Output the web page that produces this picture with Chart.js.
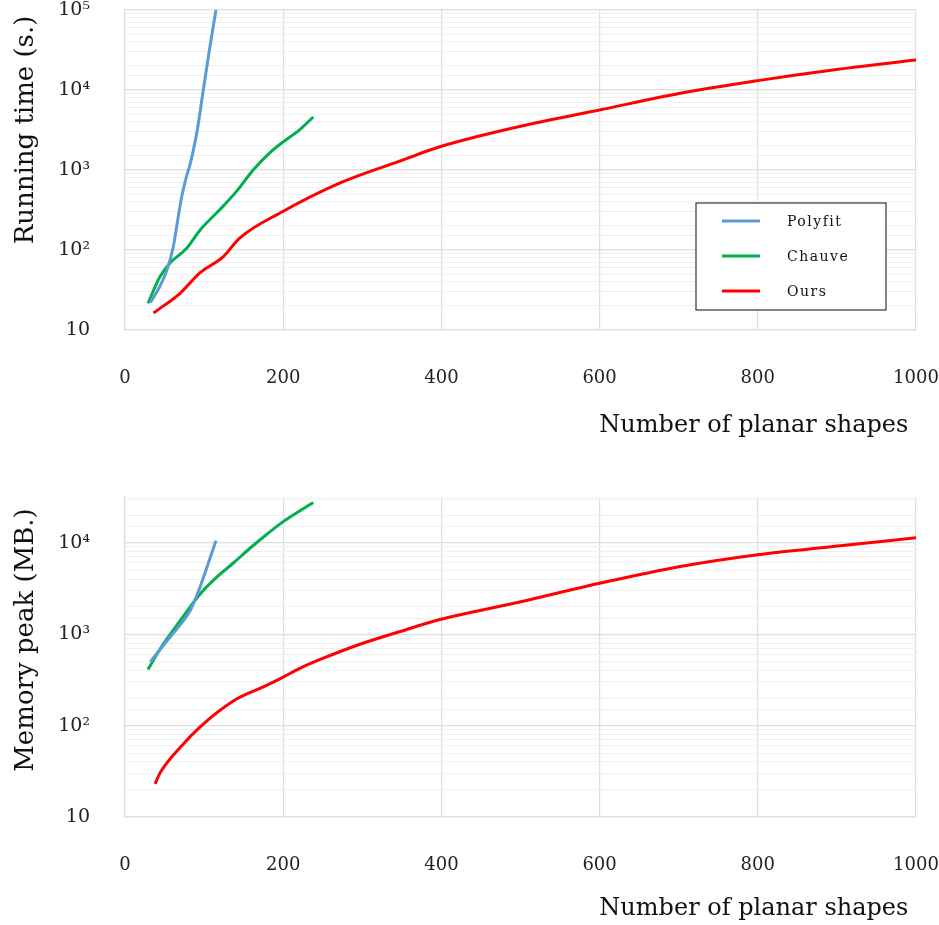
<!DOCTYPE html>
<html>
<head>
<meta charset="utf-8">
<script src="https://cdn.jsdelivr.net/npm/chart.js@4.4.1/dist/chart.umd.min.js"></script>
<style>
  body { margin: 0; background: #fff; }
  .box { position: relative; width: 939px; }
</style>
</head>
<body>
<div class="box" style="height:462px"><canvas id="timeChart"></canvas></div>
<div class="box" style="height:463px"><canvas id="memChart"></canvas></div>
<script>
// running time (s.)
const polyfitTimeX = [32, 44, 53, 61, 67, 72, 78, 82, 86, 91, 99, 107, 115];
const polyfitTimeY = [22, 35, 56, 109, 250, 480, 850, 1150, 1700, 3000, 10000, 33000, 100000];
const chauveTimeX = [29, 44, 57, 78, 95, 120, 141, 162, 183, 200, 221, 238];
const chauveTimeY = [21.5, 46, 69, 105, 178, 320, 540, 1000, 1640, 2250, 3200, 4600];
const oursTimeX = [36, 70, 95, 124, 145, 196, 272, 348, 398, 499, 600, 702, 800, 895, 1000];
const oursTimeY = [16.3, 29, 52, 82, 141, 290, 690, 1300, 1950, 3500, 5620, 9100, 13100, 17800, 23700];

// memory peak (MB.)
const polyfitMemX = [32, 57, 82, 86, 95, 115];
const polyfitMemY = [500, 930, 1780, 2100, 3300, 10500];
const chauveMemX = [29, 44, 70, 95, 116, 137, 158, 179, 200, 238];
const chauveMemY = [410, 680, 1410, 2750, 4200, 6000, 8700, 12300, 17000, 27500];
const oursMemX = [38, 44, 70, 95, 137, 179, 200, 221, 246, 297, 348, 398, 499, 600, 702, 800, 895, 1000];
const oursMemY = [23, 30, 58, 97, 186, 275, 339, 422, 525, 776, 1070, 1445, 2250, 3600, 5500, 7400, 9100, 11300];

const xTicks = [0, 200, 400, 600, 800, 1000];
const seriesNames = ['Polyfit', 'Chauve', 'Ours'];
const seriesColors = ['#5b9bd5', '#00b050', '#ff0000'];

const serif = "'DejaVu Serif', serif";
const sup = {'0':'⁰','1':'¹','2':'²','3':'³','4':'⁴','5':'⁵','6':'⁶','7':'⁷','8':'⁸','9':'⁹'};

function pts(xs, ys) {
  return xs.map((x, i) => ({x: x, y: ys[i]}));
}

function isPow10(v) {
  const l = Math.log10(v);
  return Math.abs(l - Math.round(l)) < 1e-6;
}

function powLabel(v) {
  if (!isPow10(v)) return '';
  const e = Math.round(Math.log10(v));
  if (e === 1) return '10';
  return '10' + String(e).split('').map(c => sup[c]).join('');
}

// legend box drawn inside the plot area
const boxLegend = {
  id: 'boxLegend',
  afterDraw(chart, args, opts) {
    if (!opts.show) return;
    const ctx = chart.ctx;
    const a = chart.chartArea;
    const x0 = a.right - 220, y0 = a.bottom - 127;
    const w = 190, h = 107;
    ctx.save();
    ctx.fillStyle = '#fff';
    ctx.fillRect(x0, y0, w, h);
    ctx.strokeStyle = '#333';
    ctx.lineWidth = 1.2;
    ctx.strokeRect(x0, y0, w, h);
    ctx.font = "14px " + serif;
    ctx.letterSpacing = '1.5px';
    ctx.textBaseline = 'middle';
    chart.data.datasets.forEach((ds, i) => {
      const y = y0 + 18 + i * 35;
      ctx.strokeStyle = ds.borderColor;
      ctx.lineWidth = 3;
      ctx.beginPath();
      ctx.moveTo(x0 + 26, y);
      ctx.lineTo(x0 + 64, y);
      ctx.stroke();
      ctx.fillStyle = '#111';
      ctx.fillText(ds.label, x0 + 91, y + 1);
    });
    ctx.restore();
  }
};

// rotated y axis title, placed like the original figure (not exactly centred)
const yTitle = {
  id: 'yTitle',
  afterDraw(chart, args, opts) {
    const ctx = chart.ctx;
    const a = chart.chartArea;
    ctx.save();
    ctx.translate(33, (a.top + a.bottom) / 2 + opts.shift);
    ctx.rotate(-Math.PI / 2);
    ctx.font = "26px " + serif;
    ctx.fillStyle = '#111';
    ctx.textAlign = 'center';
    ctx.textBaseline = 'alphabetic';
    ctx.fillText(opts.text, 0, 0);
    ctx.restore();
  }
};

function makeChart(id, sets, title, titleShift, yMax, padTop, xHeight, titlePad, showLegend) {
  return new Chart(document.getElementById(id), {
    type: 'line',
    data: {
      datasets: sets.map((s, i) => ({
        label: seriesNames[i],
        data: s,
        borderColor: seriesColors[i],
        backgroundColor: seriesColors[i],
        borderWidth: 3,
        pointRadius: 0,
        cubicInterpolationMode: 'monotone',
        fill: false,
      }))
    },
    options: {
      responsive: true,
      maintainAspectRatio: false,
      animation: false,
      layout: { padding: { top: padTop, right: 23, left: 0, bottom: 0 } },
      plugins: {
        legend: { display: false },
        tooltip: { enabled: false },
        boxLegend: { show: showLegend },
        yTitle: { text: title, shift: titleShift },
      },
      scales: {
        x: {
          type: 'linear',
          min: 0,
          max: 1000,
          afterBuildTicks: (scale) => { scale.ticks = xTicks.map(v => ({value: v})); },
          ticks: { color: '#222', font: { family: serif, size: 18 }, padding: 38,
                   callback: (v) => String(v) },
          grid: { color: '#dddddd', lineWidth: 1.2, drawTicks: false },
          border: { color: '#dddddd', width: 1.2 },
          title: {
            display: true, text: 'Number of planar shapes ', align: 'end',
            color: '#111', font: { family: serif, size: 24 },
            padding: { top: 0, bottom: titlePad }
          },
          afterFit: (scale) => {
            scale.height = xHeight;
            scale.paddingLeft = 0;
            scale.paddingRight = 0;
          }
        },
        y: {
          type: 'logarithmic',
          min: 10,
          max: yMax,
          ticks: {
            color: '#222', font: { family: serif, size: 19 }, padding: 35,
            autoSkip: false,
            callback: (v) => powLabel(v)
          },
          grid: {
            drawTicks: false,
            color: (c) => (isPow10(c.tick.value) ? '#dddddd' : '#f0f0f0'),
            lineWidth: (c) => (isPow10(c.tick.value) ? 1.2 : 1),
          },
          border: { color: '#dddddd', width: 1.2 },
          afterFit: (scale) => {
            scale.width = 125;
            scale.paddingTop = 0;
            scale.paddingBottom = 0;
          }
        }
      }
    },
    plugins: [boxLegend, yTitle]
  });
}

makeChart('timeChart',
  [pts(polyfitTimeX, polyfitTimeY), pts(chauveTimeX, chauveTimeY), pts(oursTimeX, oursTimeY)],
  'Running time (s.)', -40, 100000, 10, 132, 22, true);

makeChart('memChart',
  [pts(polyfitMemX, polyfitMemY), pts(chauveMemX, chauveMemY), pts(oursMemX, oursMemY)],
  'Memory peak (MB.)', -17, 31623, 35, 108, 2, false);
</script>
</body>
</html>
